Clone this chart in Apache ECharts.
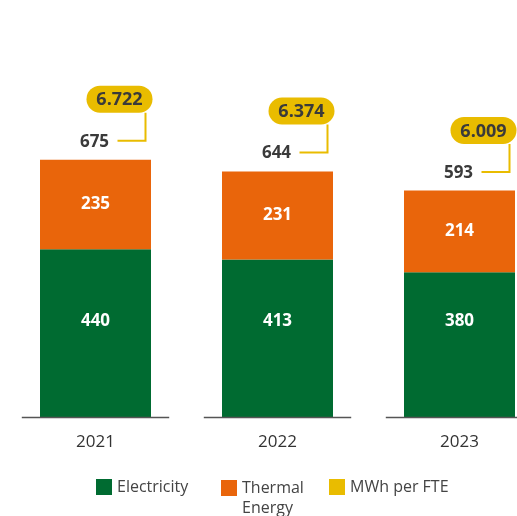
<!DOCTYPE html>
<html>
<head>
<meta charset="utf-8">
<script src="https://cdn.jsdelivr.net/npm/echarts@6/dist/echarts.min.js"></script>
<style>
  html, body { margin: 0; padding: 0; background: #fff; overflow: hidden; }
  #chart { width: 560px; height: 516px; }
</style>
</head>
<body>
<div id="chart"></div>
<script>
// Energy consumption per year (MWh), split by source, with MWh per FTE
const years = ['2021', '2022', '2023'];
const electricity = [440, 413, 380];
const thermal = [235, 231, 214];
const totals = [675, 644, 593];
const mwhPerFte = ['6.722', '6.374', '6.009'];

const GREEN = '#006B31';
const ORANGE = '#E9650B';
const YELLOW = '#E9BC00';
const DARK = '#3A3A3A';
const FONT = '"Open Sans", "Noto Sans", sans-serif';

const chart = echarts.init(document.getElementById('chart'));

// Total above each bar, joined by an elbow line to a pill holding the MWh/FTE figure
function renderCallout(params, api) {
  const idx = api.value(0);
  const p = api.coord([idx, api.value(1)]);
  const cx = p[0];
  const labelY = p[1] - 19;
  const pillBottom = labelY - 28;
  const pillH = 27, pillW = 66;
  const pillCx = cx + 24;
  return {
    type: 'group',
    children: [
      {
        type: 'polyline',
        shape: { points: [[cx + 22, labelY], [cx + 50, labelY], [cx + 50, pillBottom]] },
        style: { stroke: YELLOW, lineWidth: 2, fill: null }
      },
      {
        type: 'rect',
        shape: { x: pillCx - pillW / 2, y: pillBottom - pillH, width: pillW, height: pillH, r: pillH / 2 },
        style: { fill: YELLOW }
      },
      {
        type: 'text',
        x: pillCx, y: pillBottom - pillH / 2 + 1,
        style: {
          text: mwhPerFte[idx], fill: DARK, font: 'bold 18px ' + FONT,
          align: 'center', verticalAlign: 'middle'
        }
      },
      {
        type: 'text',
        x: cx - 1, y: labelY + 1,
        style: {
          text: String(totals[idx]), fill: DARK, font: 'bold 17px ' + FONT,
          align: 'center', verticalAlign: 'middle'
        }
      }
    ]
  };
}

// Short baseline segment under each bar
function renderBaseline(params, api) {
  const p = api.coord([api.value(0), 0]);
  const half = api.size([1, 0])[0] * 0.405;
  return {
    type: 'line',
    shape: { x1: p[0] - half, y1: p[1] + 0.5, x2: p[0] + half, y2: p[1] + 0.5 },
    style: { stroke: '#555', lineWidth: 1.3 }
  };
}

const legendText = { fontFamily: FONT, fontSize: 16, color: '#444' };
const legendBase = {
  top: 474,
  orient: 'horizontal',
  itemWidth: 16,
  itemHeight: 16,
  icon: 'rect',
  selectedMode: false,
  textStyle: legendText
};

chart.setOption({
  animation: false,
  backgroundColor: '#fff',
  grid: { left: 4.5, width: 546, top: 112, height: 305, containLabel: false },
  legend: [
    Object.assign({}, legendBase, { left: 91, data: [{ name: 'Electricity' }] }),
    Object.assign({}, legendBase, {
      left: 216, top: 453,
      data: [{ name: 'Thermal Energy' }],
      formatter: () => '\nThermal\nEnergy',
      textStyle: Object.assign({}, legendText, { lineHeight: 20 })
    }),
    Object.assign({}, legendBase, {
      left: 324, data: [{ name: 'MWh per FTE', itemStyle: { color: YELLOW } }]
    })
  ],
  xAxis: {
    type: 'category',
    data: years,
    axisLine: { show: false },
    axisTick: { show: false },
    axisLabel: { color: '#333', fontSize: 17, fontFamily: FONT, margin: 17 }
  },
  yAxis: {
    type: 'value',
    min: 0,
    max: 800,
    show: false,
    splitLine: { show: false }
  },
  series: [
    {
      name: 'Electricity',
      type: 'bar',
      stack: 'energy',
      barWidth: 111,
      data: electricity,
      itemStyle: { color: GREEN },
      label: {
        show: true, position: 'insideBottom', distance: 87,
        color: '#fff', fontWeight: 'bold', fontSize: 17, fontFamily: FONT
      }
    },
    {
      name: 'Thermal Energy',
      type: 'bar',
      stack: 'energy',
      barWidth: 111,
      data: thermal,
      itemStyle: { color: ORANGE },
      label: {
        show: true, position: 'inside',
        color: '#fff', fontWeight: 'bold', fontSize: 17, fontFamily: FONT
      }
    },
    {
      name: 'MWh per FTE',
      type: 'custom',
      clip: false,
      itemStyle: { color: YELLOW },
      renderItem: renderCallout,
      data: totals.map((t, i) => [i, t]),
      z: 5
    },
    {
      name: 'baseline',
      type: 'custom',
      clip: false,
      renderItem: renderBaseline,
      data: years.map((y, i) => [i]),
      z: 6
    }
  ]
});
</script>
</body>
</html>
